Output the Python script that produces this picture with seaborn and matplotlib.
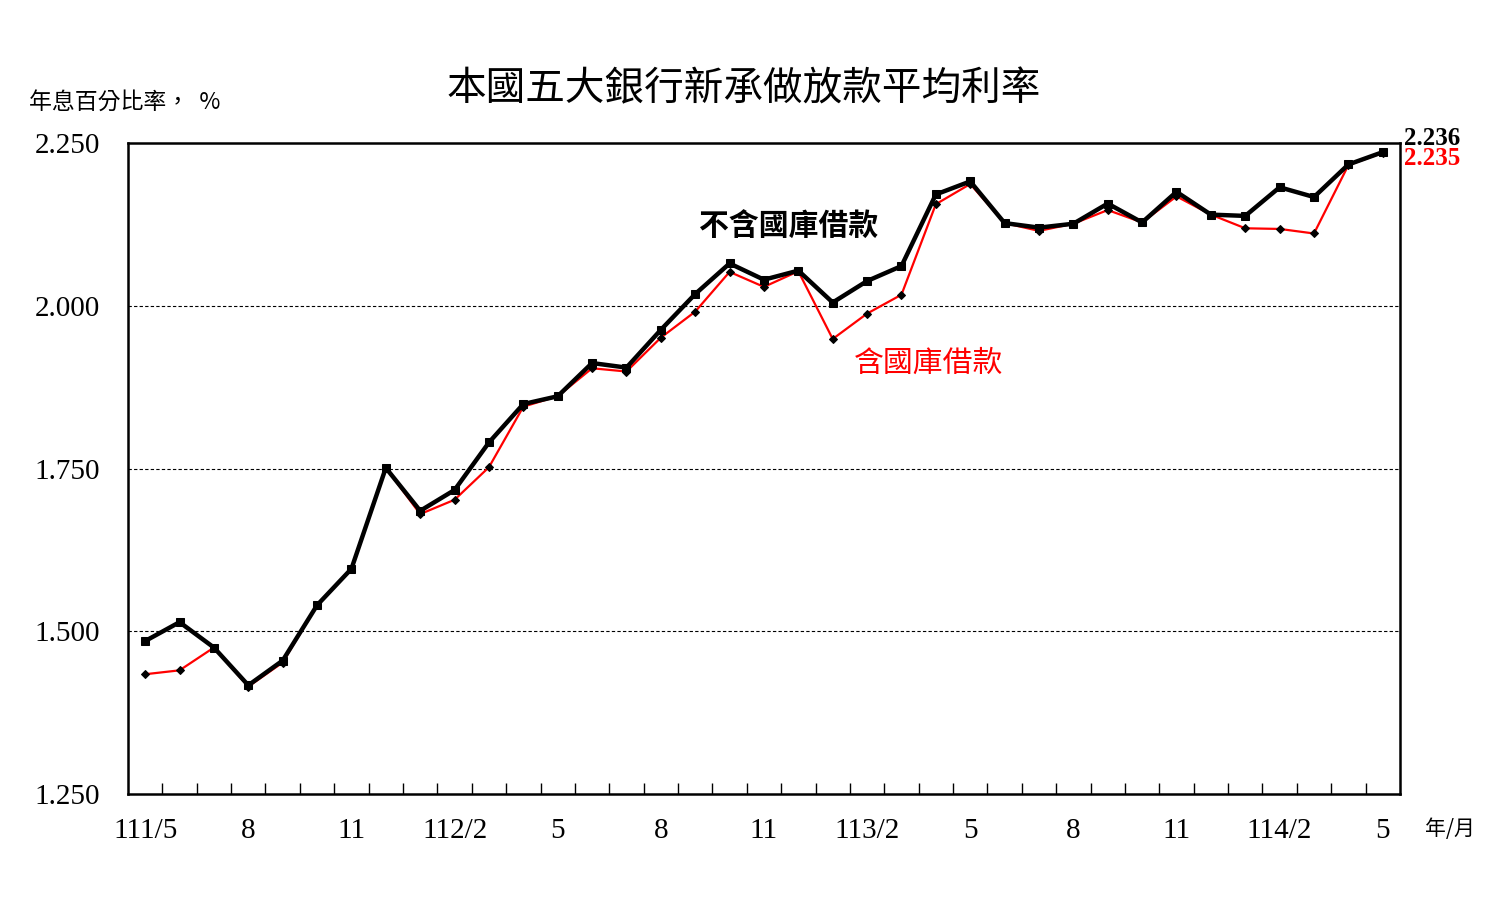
import matplotlib
matplotlib.use("Agg")
import matplotlib.pyplot as plt
import numpy as np
import pandas as pd
import seaborn as sns

# monthly average rate, 111/5 .. 114/5 (ROC year/month)
excl_treasury = [1.485, 1.514, 1.475, 1.417, 1.455, 1.540, 1.596, 1.751, 1.685, 1.717,
                 1.790, 1.849, 1.861, 1.912, 1.905, 1.963, 2.018, 2.065, 2.040, 2.054,
                 2.005, 2.038, 2.061, 2.171, 2.191, 2.127, 2.120, 2.126, 2.157, 2.128,
                 2.175, 2.140, 2.138, 2.182, 2.167, 2.217, 2.236]
incl_treasury = [1.434, 1.440, 1.475, 1.415, 1.452, 1.540, 1.596, 1.751, 1.680, 1.702,
                 1.752, 1.845, 1.861, 1.904, 1.899, 1.951, 1.991, 2.052, 2.029, 2.053,
                 1.949, 1.988, 2.017, 2.156, 2.187, 2.127, 2.115, 2.126, 2.147, 2.128,
                 2.168, 2.140, 2.119, 2.118, 2.111, 2.216, 2.235]
month_labels = ["111/5", "8", "11", "112/2", "5", "8", "11",
                "113/2", "5", "8", "11", "114/2", "5"]
y_ticks = [1.25, 1.5, 1.75, 2.0, 2.25]

df = pd.DataFrame({
    "idx": np.arange(len(excl_treasury)),
    "excl": excl_treasury,
    "incl": incl_treasury,
})

sns.set_theme(style="white")
plt.rcParams["font.family"] = ["Liberation Serif", "Noto Sans CJK TC"]
plt.rcParams["text.color"] = "black"
plt.rcParams["xtick.color"] = "black"
plt.rcParams["ytick.color"] = "black"
cjk = ["Noto Sans CJK TC", "DejaVu Sans"]

fig = plt.figure(figsize=(15.11, 9.22), dpi=100)
ax = fig.add_axes([0.0847, 0.1388, 0.8418, 0.7061])

sns.lineplot(data=df, x="idx", y="incl", ax=ax, color="red", linewidth=1.6,
             marker="D", markersize=4, markeredgecolor="black",
             markerfacecolor="black", zorder=3)
sns.lineplot(data=df, x="idx", y="excl", ax=ax, color="black", linewidth=3.2,
             marker="s", markersize=5.5, markeredgecolor="black",
             markerfacecolor="black", zorder=4)

n = len(excl_treasury)
ax.set_xlim(-0.5, n - 0.5)
ax.set_ylim(1.25, 2.25)
ax.set_yticks(y_ticks)
ax.set_yticklabels([f"{v:.3f}" for v in y_ticks], fontsize=21)
ax.set_xticks(np.arange(0, n, 3))
ax.set_xticklabels(month_labels, fontsize=21)
ax.set_xticks(np.arange(0.5, n - 1, 1), minor=True)
ax.tick_params(axis="x", which="major", length=0, pad=17)
ax.tick_params(axis="x", which="minor", direction="in", length=8, width=1, color="black", bottom=True)
ax.tick_params(axis="y", which="major", length=0, pad=20)
ax.set_xlabel("")
ax.set_ylabel("")

for v in [1.5, 1.75, 2.0]:
    ax.axhline(v, color="black", linestyle=(0, (3, 2)), linewidth=0.8, zorder=1)

for s in ax.spines.values():
    s.set_color("black")
    s.set_linewidth(1.8)

fig.text(0.492, 0.903, "本國五大銀行新承做放款平均利率", fontsize=28.5,
         family=cjk, ha="center", va="center")
fig.text(0.019, 0.889, "年息百分比率，  %", fontsize=16.5, family=cjk,
         ha="left", va="center")
fig.text(0.943, 0.101, "年/月", fontsize=15, family=cjk, ha="left", va="center")

ax.text(18.73, 2.121, "不含國庫借款", fontsize=21.5, family=cjk, fontweight="bold",
        color="black", ha="center", va="center")
ax.text(22.8, 1.912, "含國庫借款", fontsize=21.5, family=cjk,
        color="red", ha="center", va="center")

ax.annotate(f"{excl_treasury[-1]:.3f}", xy=(1.0, 2.257), xycoords=("axes fraction", "data"),
            xytext=(3, 0), textcoords="offset points", fontsize=18, fontweight="bold",
            color="black", ha="left", va="center", annotation_clip=False)
ax.annotate(f"{incl_treasury[-1]:.3f}", xy=(1.0, 2.226), xycoords=("axes fraction", "data"),
            xytext=(3, 0), textcoords="offset points", fontsize=18, fontweight="bold",
            color="red", ha="left", va="center", annotation_clip=False)

fig.savefig("out.png", dpi=100, facecolor="white")
